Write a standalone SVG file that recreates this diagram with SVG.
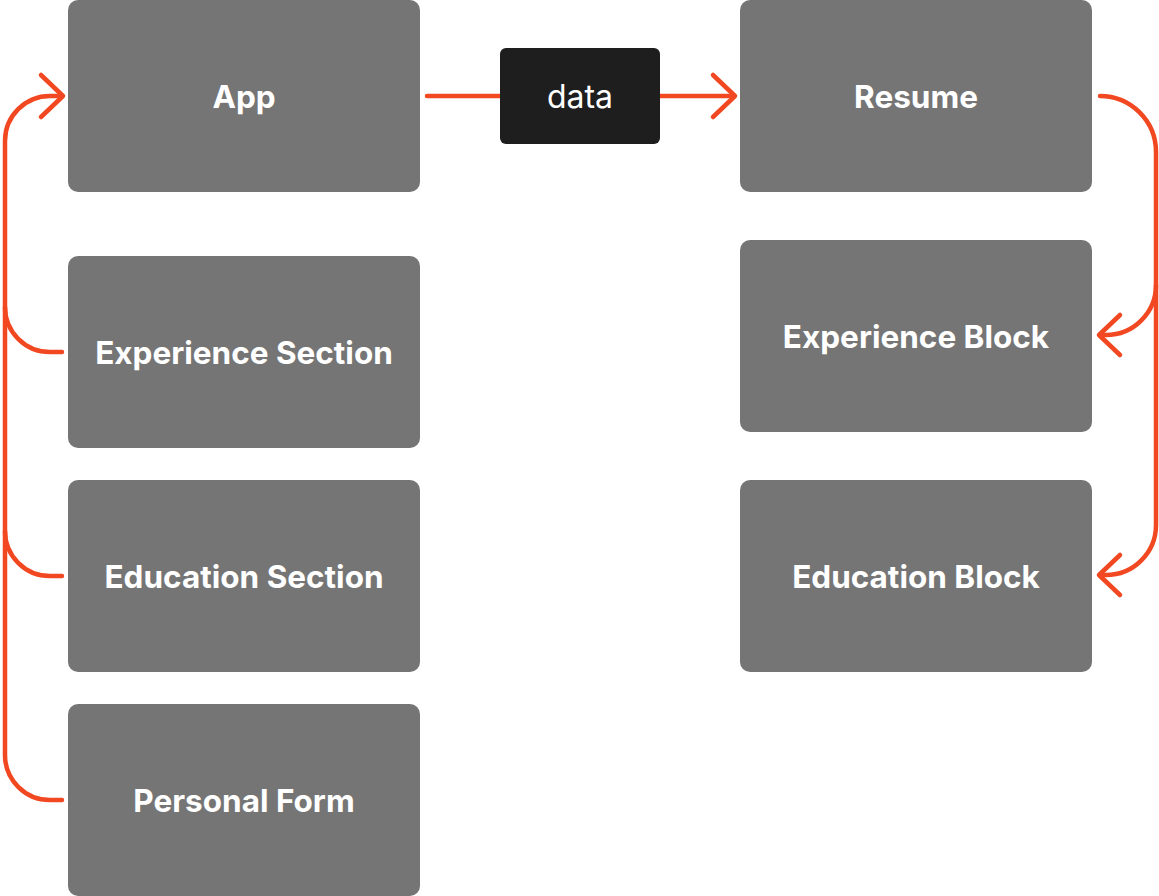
<svg xmlns="http://www.w3.org/2000/svg" width="1159" height="896" viewBox="0 0 1159 896">
<style>
.node{fill:#757575}
.lbl{font-family:Inter,"Liberation Sans",sans-serif;font-weight:700;font-size:31.5px;fill:#ffffff;text-anchor:middle}
.edge{fill:none;stroke:#F24822;stroke-width:4.5;stroke-linecap:round;stroke-linejoin:round}
</style>
<rect width="1159" height="896" fill="#ffffff"/>
<g id="connectors">
<path class="edge" d="M62 800 L50 800 A45 45 0 0 1 5 755 L5 141 A45 45 0 0 1 50 96 L62 96"/>
<path class="edge" d="M62 352 L50 352 A45 45 0 0 1 5 307"/>
<path class="edge" d="M62 576 L50 576 A45 45 0 0 1 5 531"/>
<path class="edge" d="M41 75 L63 96 L41 117"/>
<path class="edge" d="M427 96 L500 96"/>
<path class="edge" d="M660 96 L734 96"/>
<path class="edge" d="M713 75 L735 96 L713 117"/>
<path class="edge" d="M1100 96 A56 56 0 0 1 1156 152 L1156 525 A50 50 0 0 1 1106 575 L1100 575"/>
<path class="edge" d="M1156 285 A50 50 0 0 1 1106 335 L1100 335"/>
<path class="edge" d="M1120 315 L1099 335 L1120 355"/>
<path class="edge" d="M1120 555 L1099 575 L1120 595"/>
</g>
<g id="data-label">
<rect x="500" y="48" width="160" height="96" rx="6" fill="#1E1E1E"/>
<text x="580" y="107.5" font-family="Inter,'Liberation Sans',sans-serif" font-size="32" fill="#ffffff" text-anchor="middle">data</text>
</g>
<g id="app"><rect class="node" x="68" y="0" width="352" height="192" rx="10"/><text class="lbl" x="244" y="107.5">App</text></g>
<g id="experience-section"><rect class="node" x="68" y="256" width="352" height="192" rx="10"/><text class="lbl" x="244" y="363.5">Experience Section</text></g>
<g id="education-section"><rect class="node" x="68" y="480" width="352" height="192" rx="10"/><text class="lbl" x="244" y="587.5">Education Section</text></g>
<g id="personal-form"><rect class="node" x="68" y="704" width="352" height="192" rx="10"/><text class="lbl" x="244" y="811.5">Personal Form</text></g>
<g id="resume"><rect class="node" x="740" y="0" width="352" height="192" rx="10"/><text class="lbl" x="916" y="107.5">Resume</text></g>
<g id="experience-block"><rect class="node" x="740" y="240" width="352" height="192" rx="10"/><text class="lbl" x="916" y="347.5">Experience Block</text></g>
<g id="education-block"><rect class="node" x="740" y="480" width="352" height="192" rx="10"/><text class="lbl" x="916" y="587.5">Education Block</text></g>
</svg>
